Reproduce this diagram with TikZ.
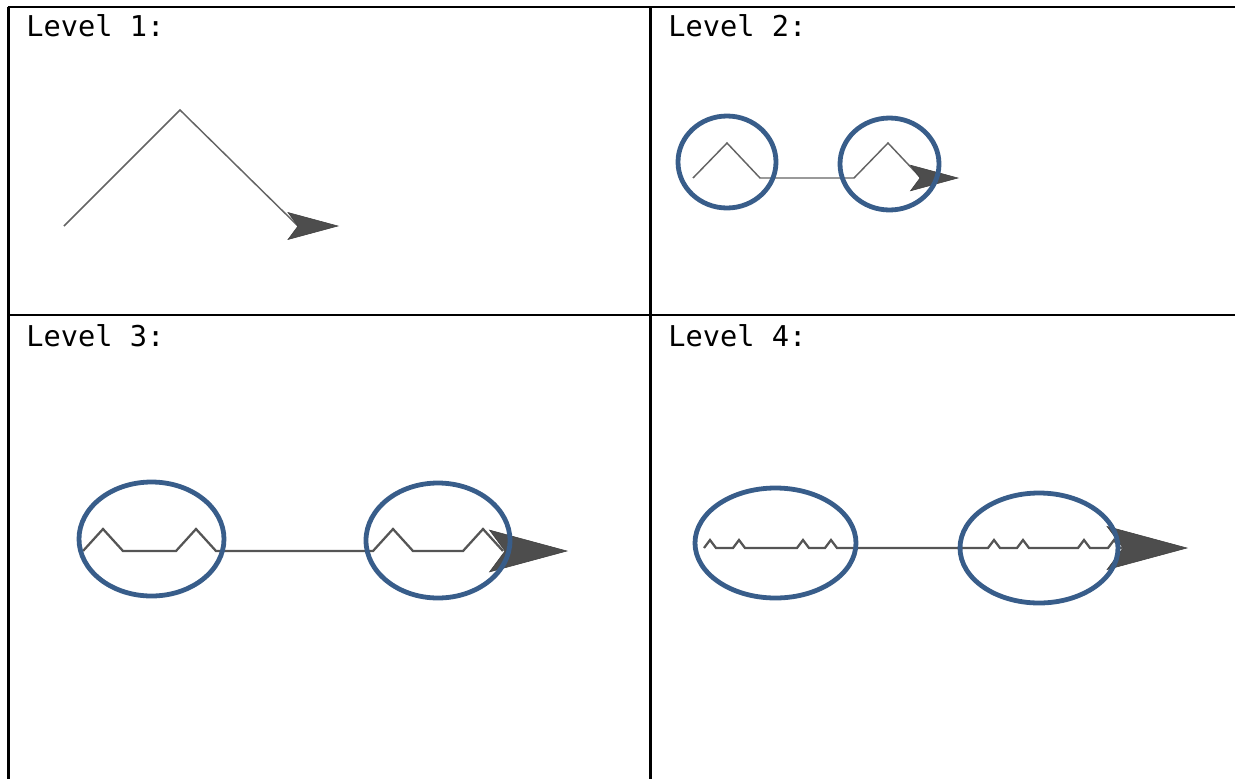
\documentclass[tikz,border=0pt]{standalone}
\usepackage{fontspec}
\setmonofont{DejaVu Sans Mono}
\usepackage{xcolor}
\usepackage{tikz}
\usetikzlibrary{positioning}
\definecolor{ringblue}{RGB}{56,93,138}
\definecolor{pathgray}{RGB}{100,100,100}
\definecolor{headgray}{RGB}{77,77,77}

\tikzset{
  turtle/.pic={\fill[headgray, draw=headgray!80!black, line width=0.4pt]
    (0,0) -- (-10,-13.5) -- (40,0) -- (-10,13.5) -- cycle;}
}

\begin{document}
\begin{tikzpicture}[
  x=0.75pt, y=-0.75pt,
  grid/.style={black, line width=2.2pt},
  lbl/.style={anchor=base west, inner sep=0pt,
              font=\ttfamily\fontsize{21.5}{25}\selectfont},
  thin path/.style={pathgray, line width=1.1pt, line join=miter},
  thick path/.style={pathgray!85!black, line width=1.7pt, line join=miter},
  ring/.style={ringblue, line width=3.6pt}
]
\useasboundingbox (0,0) rectangle (1235,779);
% table rules
\draw[grid] (7.5,7) -- (1235,7);
\draw[grid] (8.7,7) -- (8.7,779);
\draw[grid] (650.5,7) -- (650.5,779);
\draw[grid] (8.7,315) -- (1235,315);
% level labels
\node[lbl] (lvA) at (26,36) {Level 1:};
\node[lbl] (lvB) at (668,36) {Level 2:};
\node[lbl] (lvC) at (26,346) {Level 3:};
\node[lbl] (lvD) at (668,346) {Level 4:};
% level 1
\draw[thin path] (64,226) -- (180,110) -- (298,226);
\pic at (298,226) {turtle};
% level 2
\draw[thin path] (693,178) -- (727,143) -- (760,178) -- (854,178) -- (888,143) -- (921,178);
\pic[scale=0.95] at (920,178) {turtle};
\draw[ring] (727,162) ellipse [x radius=49, y radius=46];
\draw[ring] (889.5,164) ellipse [x radius=49.5, y radius=46];
% level 3
\draw[thick path] (83,551) \foreach \s in {83,176,373,463} { -- (\s,551) -- ++(20,-22) -- ++(20,22) };
\pic[scale=1.55] at (505,551) {turtle};
\draw[ring] (151.5,539) ellipse [x radius=72.5, y radius=57];
\draw[ring] (438,540.5) ellipse [x radius=72, y radius=57.5];
% level 4
\draw[thick path] (704,548) \foreach \s in {704,733,797,825,988,1017,1078,1108} { -- (\s,548) -- ++(6,-8) -- ++(6,8) } -- (1122,548);
\pic[scale=1.6] at (1123,548) {turtle};
\draw[ring] (775.5,543) ellipse [x radius=80.5, y radius=55];
\draw[ring] (1039,548) ellipse [x radius=79, y radius=55];
\end{tikzpicture}
\end{document}
